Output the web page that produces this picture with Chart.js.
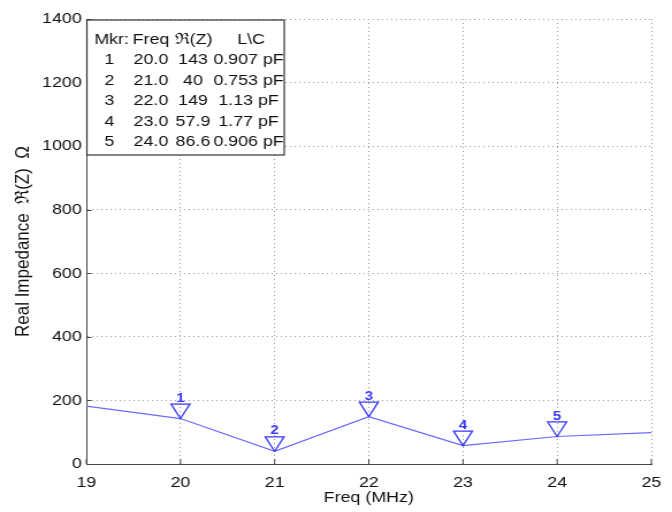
<!DOCTYPE html>
<html>
<head>
<meta charset="utf-8">
<script src="https://cdn.jsdelivr.net/npm/chart.js@4/dist/chart.umd.min.js"></script>
<style>
  html, body { margin: 0; padding: 0; background: #fff; overflow: hidden; }
  #wrap { width: 672px; height: 512px; overflow: hidden; }
  /* the original figure is stretched sideways, so draw narrow and stretch */
  #c { transform: scale(1.1507, 1); transform-origin: 0 0; }
</style>
</head>
<body>
<div id="wrap"><canvas id="c" width="584" height="512"></canvas></div>
<script>
// data
const freqs = [19, 20, 21, 22, 23, 24, 25];
const realZ = [182, 143, 40, 149, 57.9, 86.6, 99];

const mkrFreq = [20, 21, 22, 23, 24];
const mkrRe = [143, 40, 149, 57.9, 86.6];
const mkrLC = ['0.907 pF', '0.753 pF', '1.13 pF', '1.77 pF', '0.906 pF'];

const xTicks = [19, 20, 21, 22, 23, 24, 25];
const yTicks = [0, 200, 400, 600, 800, 1000, 1200, 1400];

const FONT = '"Liberation Sans", Arial, sans-serif';
const lineColor = 'rgb(105,105,255)';
const mkrColor = 'rgb(55,55,250)';

// small inward tick marks on the left and bottom axes
const innerTicks = {
  id: 'innerTicks',
  afterDatasetsDraw(chart) {
    const ctx = chart.ctx, ca = chart.chartArea;
    const xs = chart.scales.x, ys = chart.scales.y;
    ctx.save();
    ctx.strokeStyle = '#444';
    ctx.lineWidth = 1;
    ctx.beginPath();
    yTicks.forEach(v => {
      const py = Math.round(ys.getPixelForValue(v)) + 0.5;
      ctx.moveTo(ca.left, py);
      ctx.lineTo(ca.left + 4.5, py);
    });
    xTicks.forEach(v => {
      const px = xs.getPixelForValue(v);
      ctx.moveTo(px, ca.bottom);
      ctx.lineTo(px, ca.bottom - 5);
    });
    ctx.stroke();
    ctx.restore();
  }
};

// triangle markers with their numbers
const markers = {
  id: 'markers',
  afterDatasetsDraw(chart) {
    const ctx = chart.ctx;
    const xs = chart.scales.x, ys = chart.scales.y;
    ctx.save();
    ctx.strokeStyle = mkrColor;
    ctx.fillStyle = mkrColor;
    ctx.lineWidth = 1.3;
    ctx.font = 'bold 13px ' + FONT;
    ctx.textAlign = 'center';
    ctx.textBaseline = 'bottom';
    mkrFreq.forEach((f, i) => {
      const px = xs.getPixelForValue(f);
      const py = ys.getPixelForValue(mkrRe[i]);
      const hw = 8.2, h = 14.5;
      ctx.beginPath();
      ctx.moveTo(px, py);
      ctx.lineTo(px - hw, py - h);
      ctx.lineTo(px + hw, py - h);
      ctx.closePath();
      ctx.stroke();
      ctx.fillText(String(i + 1), px, py - h + 0.5);
    });
    ctx.restore();
  }
};

// marker table in the top left corner
const mkrTable = {
  id: 'mkrTable',
  afterDraw(chart) {
    const ctx = chart.ctx;
    const bx = 75.5, by = 20, bw = 171.5, bh = 135;
    ctx.save();
    ctx.fillStyle = '#fff';
    ctx.fillRect(bx, by, bw, bh);
    ctx.strokeStyle = '#333';
    ctx.lineWidth = 1.2;
    ctx.strokeRect(bx, by, bw, bh);

    ctx.fillStyle = '#111';
    ctx.font = '15.5px ' + FONT;
    ctx.textBaseline = 'middle';
    ctx.textAlign = 'center';
    const cols = [95, 131.2, 167.7, 216];
    const hy = 40;
    ctx.fillText('Mkr:', 97, hy);
    ctx.fillText('Freq', cols[1], hy);
    ctx.fillText('\u211C(Z)', 168.2, hy);
    ctx.fillText('L\\C', 218.2, hy);
    const rowY = [60, 80.5, 101, 121.5, 142];
    mkrFreq.forEach((f, i) => {
      const y = rowY[i];
      ctx.fillText(String(i + 1), cols[0], y);
      ctx.fillText(f.toFixed(1), cols[1], y);
      ctx.fillText(String(parseFloat(mkrRe[i].toPrecision(3))), cols[2], y);
      ctx.fillText(mkrLC[i], cols[3], y);
    });
    ctx.restore();
  }
};

new Chart(document.getElementById('c'), {
  type: 'line',
  data: {
    datasets: [{
      data: freqs.map((f, i) => ({ x: f, y: realZ[i] })),
      borderColor: lineColor,
      borderWidth: 1.2,
      pointRadius: 0,
      tension: 0,
      fill: false
    }]
  },
  options: {
    responsive: false,
    animation: false,
    layout: { padding: { top: 19, right: 18, left: 0, bottom: 0 } },
    plugins: { legend: { display: false }, tooltip: { enabled: false } },
    scales: {
      x: {
        type: 'linear',
        min: 19,
        max: 25,
        afterBuildTicks: s => { s.ticks = xTicks.map(v => ({ value: v })); },
        afterFit: s => { s.height = 48; },
        ticks: { color: '#111', font: { family: FONT, size: 15.5 }, padding: 9, maxRotation: 0, callback: v => String(v) },
        grid: { color: '#9a9a9a', lineWidth: 1, drawTicks: false },
        border: { display: true, color: '#444', width: 1, dash: [1, 3] },
        title: {
          display: true,
          text: 'Freq (MHz)',
          color: '#111',
          font: { family: FONT, size: 15.5 },
          padding: { top: 0, bottom: 5 }
        }
      },
      y: {
        min: 0,
        max: 1400,
        afterBuildTicks: s => { s.ticks = yTicks.map(v => ({ value: v })); },
        afterFit: s => { s.width = 75; },
        ticks: { color: '#111', font: { family: FONT, size: 15.5 }, padding: 4, callback: v => String(v) },
        grid: { color: '#9a9a9a', lineWidth: 1, drawTicks: false },
        border: { display: true, color: '#444', width: 1, dash: [1, 3] },
        title: {
          display: true,
          text: 'Real Impedance  \u211C(Z)  \u03A9',
          color: '#111',
          font: { family: FONT, size: 17 },
          padding: { top: 10, bottom: 0 }
        }
      }
    }
  },
  plugins: [innerTicks, markers, mkrTable]
});
</script>
</body>
</html>
